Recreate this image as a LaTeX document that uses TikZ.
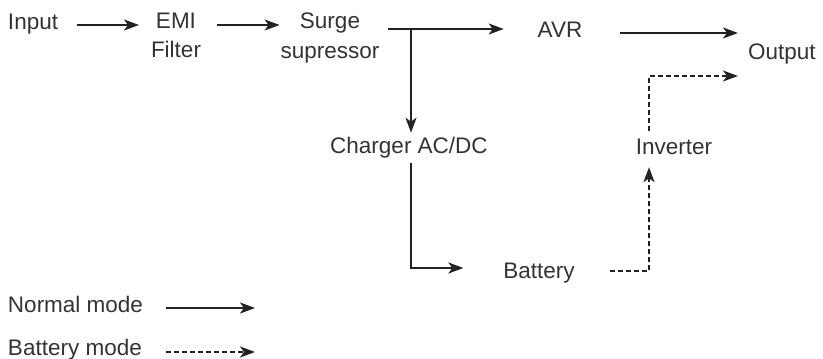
\documentclass[tikz,border=0pt]{standalone}
\usepackage{fontspec}
\setmainfont{Liberation Sans}
\usetikzlibrary{arrows.meta}
\definecolor{ink}{HTML}{222222}
\definecolor{txt}{HTML}{333333}
\begin{document}
\begin{tikzpicture}[x=1pt,y=-1pt,
  lbl/.style={inner sep=0pt, outer sep=0pt, font=\fontsize{22.5}{29.5}\selectfont, text=txt, align=center},
  arr/.style={draw=ink, line width=1.6pt, -{Stealth[length=15pt,width=11pt,inset=4pt]}},
  dsh/.style={arr, dash pattern=on 5pt off 3pt}]
\useasboundingbox (0,0) rectangle (823,359);
% nodes
\node[lbl, anchor=base west] (input) at (8,29) {Input};
\node[lbl, anchor=north] (emi) at (176,13) {EMI\\Filter};
\node[lbl, anchor=north] (surge) at (330,13) {Surge\\supressor};
\node[lbl, anchor=base] (avr) at (560,37) {AVR};
\node[lbl, anchor=base west] (output) at (748,59) {Output};
\node[lbl, anchor=base] (charger) at (409,153) {Charger AC/DC};
\node[lbl, anchor=base] (inverter) at (674,154) {Inverter};
\node[lbl, anchor=base] (battery) at (539,278) {Battery};
\node[lbl, anchor=base west] (normal) at (8,312) {Normal mode};
\node[lbl, anchor=base west] (batmode) at (8,355) {Battery mode};
% helper coordinates
\coordinate (r1) at (0,25);
\coordinate (r2) at (0,29);
\coordinate (ra) at (0,33);
\coordinate (ro) at (0,76);
\coordinate (split) at (411,29);
\coordinate (rb) at (0,268);
\coordinate (rb2) at (0,271);
\coordinate (vx) at (649,0);
\coordinate (lx1) at (166,0);
\coordinate (lx2) at (255,0);
\coordinate (ln) at (0,308);
\coordinate (lb) at (0,352);
% connectors
\draw[arr, shorten <=19pt, shorten >=12pt] (input.east |- r1) -- (emi.west |- r1);
\draw[arr, shorten <=16pt, shorten >=1pt] (emi.east |- r1) -- (surge.west |- r1);
\draw[arr, shorten <=8.5pt, shorten >=34pt] (surge.east |- r2) -- (avr.west |- r2);
\draw[arr, shorten >=4pt] (split) -- (split |- charger.north);
\draw[arr, shorten <=5pt, shorten >=40pt] (split |- charger.south) -- (split |- rb) -- (battery.west |- rb);
\draw[dsh, shorten <=35pt, shorten >=13pt] (battery.east |- rb2) -- (vx |- rb2) -- (vx |- inverter.south);
\draw[dsh, shorten <=8pt, shorten >=10pt] (vx |- inverter.north) -- (vx |- ro) -- (output.west |- ro);
\draw[arr, shorten <=38pt, shorten >=10pt] (avr.east |- ra) -- (output.west |- ra);
% legend
\draw[arr] (lx1 |- ln) -- (lx2 |- ln);
\draw[dsh] (lx1 |- lb) -- (lx2 |- lb);
\end{tikzpicture}
\end{document}
